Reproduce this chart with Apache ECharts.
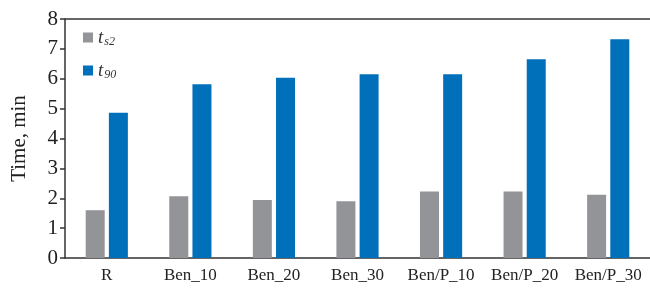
<!DOCTYPE html>
<html>
<head>
<meta charset="utf-8">
<script src="https://cdn.jsdelivr.net/npm/echarts@6/dist/echarts.min.js"></script>
<style>
  html, body { margin: 0; padding: 0; background: #fff; }
  #myChart { width: 650px; height: 291px; }
</style>
</head>
<body>
<div id="myChart"></div>
<script>
// data
var categories = ['R', 'Ben_10', 'Ben_20', 'Ben_30', 'Ben/P_10', 'Ben/P_20', 'Ben/P_30'];
var ts2 = [1.60, 2.07, 1.94, 1.90, 2.23, 2.23, 2.12];
var t90 = [4.86, 5.82, 6.03, 6.15, 6.15, 6.65, 7.32];
var yTicks = [0, 1, 2, 3, 4, 5, 6, 7, 8];

var serif = '"Liberation Serif", "DejaVu Serif", serif';
var myChart = echarts.init(document.getElementById('myChart'));
myChart.setOption({
  animation: false,
  textStyle: { fontFamily: serif, color: '#222' },
  grid: { left: 65, right: 0, top: 19, bottom: 33 },
  legend: {
    orient: 'vertical',
    left: 78,
    top: 23,
    itemWidth: 10,
    itemHeight: 10,
    itemGap: 13,
    icon: 'rect',
    formatter: function (name) {
      return name === 'ts2' ? '{t|t}{s|s2}' : '{t|t}{s|90}';
    },
    textStyle: {
      rich: {
        t: { fontFamily: serif, fontStyle: 'italic', fontSize: 19, color: '#333' },
        s: { fontFamily: serif, fontStyle: 'italic', fontSize: 12, color: '#333', padding: [9, 0, 0, 1] }
      }
    },
    data: ['ts2', 't90']
  },
  xAxis: {
    type: 'category',
    data: categories,
    axisLine: { lineStyle: { color: '#333', width: 1.5 } },
    axisTick: { show: false },
    axisLabel: { interval: 0, fontFamily: serif, fontSize: 17, color: '#222', margin: 9 }
  },
  yAxis: {
    type: 'value',
    min: yTicks[0],
    max: yTicks[yTicks.length - 1],
    interval: 1,
    name: 'Time, min',
    nameLocation: 'middle',
    nameGap: 35,
    nameTextStyle: { fontFamily: serif, fontSize: 21, color: '#222' },
    axisLine: { show: true, lineStyle: { color: '#333', width: 1.5 } },
    axisTick: { show: true, length: 5, lineStyle: { color: '#333', width: 1.5 } },
    axisLabel: { fontFamily: serif, fontSize: 21, color: '#222', margin: 7 },
    splitLine: { show: false }
  },
  graphic: [{
    type: 'line',
    shape: { x1: 65, y1: 19, x2: 650, y2: 19 },
    style: { stroke: '#333', lineWidth: 1.5 }
  }],
  series: [{
    name: 'ts2',
    type: 'bar',
    data: ts2,
    barWidth: 19,
    barGap: '22%',
    itemStyle: { color: '#939498' }
  }, {
    name: 't90',
    type: 'bar',
    data: t90,
    barWidth: 19,
    itemStyle: { color: '#0070BA' }
  }]
});
</script>
</body>
</html>
